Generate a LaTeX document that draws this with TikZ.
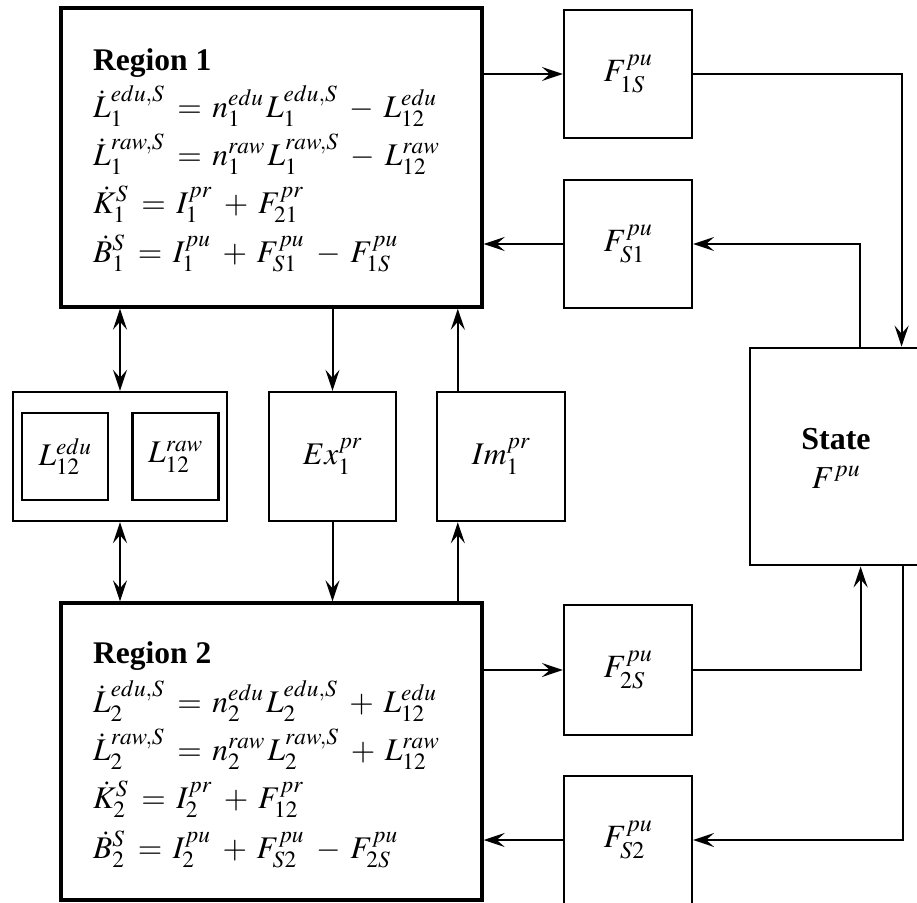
\documentclass[tikz,border=0pt]{standalone}
\usepackage{mathptmx}
\usepackage[no-math]{fontspec}
\setmainfont{Liberation Serif}
\usetikzlibrary{arrows.meta}
\begin{document}
\begin{tikzpicture}[x=1pt,y=-1pt,
  >={Stealth[length=21pt,width=14pt,inset=8pt]},
  every node/.style={font=\fontsize{31.5}{40}\selectfont},
  regionbox/.style={draw, line width=3.4pt, inner sep=0pt, minimum width=421pt},
  fbox/.style={draw, line width=2.2pt, inner sep=0pt, minimum width=128pt, minimum height=128pt, font=\fontsize{32.5}{40}\selectfont},
  midbox/.style={draw, line width=2.4pt, inner sep=0pt, minimum width=127pt, minimum height=129pt},
  innerbox/.style={draw, line width=2.2pt, inner sep=0pt, minimum width=86pt, minimum height=87pt},
  eqline/.style={anchor=base west, inner sep=0pt,
     execute at begin node={\thickmuskip=6mu plus 2mu\medmuskip=5.5mu plus 2mu\scriptspace=3pt}},
  conn/.style={line width=2pt}
]
\useasboundingbox (0,0) rectangle (917,902);
\fill[white] (0,0) rectangle (917,902);
\clip (0,0) rectangle (917,902);

% Region boxes
\node[regionbox, minimum height=299pt] (r1) at (271.5,157.5) {};
\node[regionbox, minimum height=297pt] (r2) at (271.5,751.5) {};

\node[eqline] (r1h) at (93,70) {\textbf{Region 1}};
\node[eqline] (r1a) at (93,117) {$\dot{L}_1^{edu,S} = n_1^{edu} L_1^{edu,S} - L_{12}^{edu}$};
\node[eqline] (r1b) at (93,165) {$\dot{L}_1^{raw,S} = n_1^{raw} L_1^{raw,S} - L_{12}^{raw}$};
\node[eqline] (r1c) at (93,213) {$\dot{K}_1^{S} = I_1^{pr} + F_{21}^{pr}$};
\node[eqline] (r1d) at (93,262) {$\dot{B}_1^{S} = I_1^{pu} + F_{S1}^{pu} - F_{1S}^{pu}$};

\node[eqline] (r2h) at (93,663) {\textbf{Region 2}};
\node[eqline] (r2a) at (93,712) {$\dot{L}_2^{edu,S} = n_2^{edu} L_2^{edu,S} + L_{12}^{edu}$};
\node[eqline] (r2b) at (93,760) {$\dot{L}_2^{raw,S} = n_2^{raw} L_2^{raw,S} + L_{12}^{raw}$};
\node[eqline] (r2c) at (93,808) {$\dot{K}_2^{S} = I_2^{pr} + F_{12}^{pr}$};
\node[eqline] (r2d) at (93,858) {$\dot{B}_2^{S} = I_2^{pu} + F_{S2}^{pu} - F_{2S}^{pu}$};

% F boxes
\node[fbox] (f1s) at (628,74) {$F_{1S}^{pu}$};
\node[fbox] (fs1) at (628,244) {$F_{S1}^{pu}$};
\node[fbox, minimum height=130pt] (f2s) at (628,670) {$F_{2S}^{pu}$};
\node[fbox] (fs2) at (628,840) {$F_{S2}^{pu}$};

% middle row
\node[draw, line width=2.4pt, inner sep=0pt, minimum width=214pt, minimum height=129pt] (lbox) at (120,456.5) {};
\node[innerbox] (ledu) at (65,456.5) {$L_{12}^{edu}$};
\node[innerbox] (lraw) at (175.5,456.5) {$L_{12}^{raw}$};
\node[midbox] (ex) at (332.5,456.5) {$Ex_1^{pr}$};
\node[midbox, minimum width=128pt] (im) at (501,456.5) {$Im_1^{pr}$};

% State
\node[draw, line width=2.8pt, inner sep=0pt, minimum width=172pt, minimum height=217pt] (state) at (836,456.5) {};
\node[align=center, font=\fontsize{32}{39}\selectfont] (statet) at (836,458) {\textbf{State}\\ $F^{pu}$};

% connectors
\draw[conn,<->] (lbox.north |- r1.south) -- (lbox.north);
\draw[conn,<->] (lbox.south) -- (lbox.south |- r2.north);
\draw[conn,->] (ex.north |- r1.south) -- (ex.north);
\draw[conn,->] (ex.south) -- (ex.south |- r2.north);
\coordinate (imt) at ([xshift=22pt]im.north west);
\coordinate (imb) at ([xshift=22pt]im.south west);
\draw[conn,->] (imt) -- (imt |- r1.south);
\draw[conn,->] (imb |- r2.north) -- (imb);

\draw[conn,->] (f1s.west -| r1.east) -- (f1s.west);
\draw[conn,->] (fs1.west) -- (fs1.west -| r1.east);
\draw[conn,->] (f2s.west -| r2.east) -- (f2s.west);
\draw[conn,->] (fs2.west) -- (fs2.west -| r2.east);

\coordinate (stA) at ([xshift=111pt]state.north west);
\coordinate (stB) at ([xshift=153pt]state.north west);
\coordinate (stC) at ([xshift=112pt]state.south west);
\coordinate (stD) at ([xshift=154pt]state.south west);
\draw[conn,->] (stA) |- (fs1.east);
\draw[conn,->] (f1s.east) -| (stB);
\draw[conn,->] (f2s.east) -| (stC);
\draw[conn,->] (stD) |- (fs2.east);
\end{tikzpicture}
\end{document}
